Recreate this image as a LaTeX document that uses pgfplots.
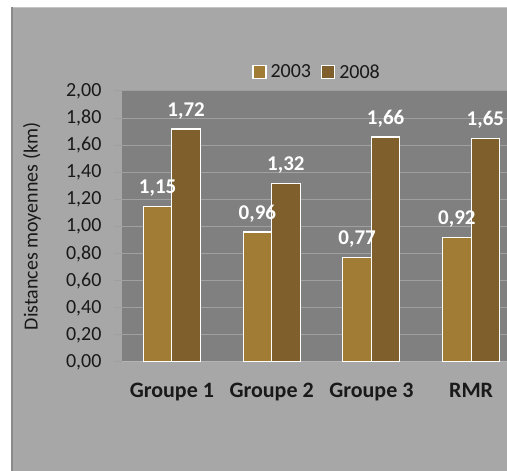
\documentclass[border=0pt]{standalone}
\usepackage{fontspec}
\setmainfont{Carlito}
\usepackage{pgfplots}
\pgfplotsset{compat=1.18}
\definecolor{outerbg}{HTML}{A6A7A6}
\definecolor{leftborder}{HTML}{8A8A8A}
\definecolor{topborder}{HTML}{C4C4C4}
\definecolor{plotbg}{HTML}{808080}
\definecolor{gridc}{HTML}{A0A0A0}
\definecolor{axc}{HTML}{B4B4B4}
\definecolor{c2003}{HTML}{A07C34}
\definecolor{c2008}{HTML}{7F5F2C}
\newcommand{\chartfont}{\fontsize{20}{22}\selectfont}

\begin{document}
\begin{tikzpicture}[x=1pt,y=1pt]
\clip (0,0) rectangle (507,471);
\fill[white] (0,0) rectangle (507,471);
\fill[outerbg] (11,0) rectangle (530,464);
\draw[topborder, line width=1pt] (11,463.5) -- (530,463.5);
\draw[leftborder, line width=1.5pt] (11.75,0) -- (11.75,464);
\begin{axis}[
    at={(122pt,109pt)}, anchor=south west,
    scale only axis, width=399pt, height=271pt,
    axis background/.style={fill=plotbg},
    ybar=0pt, bar width=28.5pt,
    xmin=-0.5, xmax=3.5, ymin=0, ymax=2,
    xtick={0,1,2,3},
    xticklabels={Groupe 1,Groupe 2,Groupe 3,RMR},
    major x tick style={draw=none},
    extra x ticks={-0.5,0.5,1.5,2.5,3.5},
    extra x tick labels={},
    extra x tick style={grid=none, tick align=outside, major tick length=8pt,
        major tick style={draw=axc, line width=1pt}},
    ytick={0,0.2,0.4,0.6,0.8,1,1.2,1.4,1.6,1.8,2},
    ymajorgrids,
    grid style={gridc, line width=1pt},
    axis x line*=bottom, axis y line*=left,
    x axis line style={axc, line width=1pt},
    y axis line style={draw=none},
    tick align=outside, major tick length=8pt,
    ytick style={draw=gridc, line width=1pt},
    /pgf/number format/.cd, use comma, fixed, fixed zerofill, precision=2,
        assume math mode=true,
    /pgfplots/.cd,
    yticklabel style={font=\chartfont, text=black!90, xshift=-9pt},
    xticklabel style={font=\fontsize{22}{24}\selectfont\bfseries, text=black!90, yshift=-10pt},
    ylabel={Distances moyennes (km)},
    every axis y label/.style={at={(axis description cs:-0.2256,0.5)},
        rotate=90, anchor=center, font=\chartfont, text=black!90},
    nodes near coords,
    nodes near coords style={font=\fontsize{21}{23}\selectfont\bfseries, text=white, yshift=6pt},
    legend style={at={(0.489,1.07)}, anchor=center, legend columns=2,
        draw=none, fill=none, font=\chartfont, text=black!90,
        /tikz/every odd column/.append style={column sep=2pt},
        /tikz/every even column/.append style={column sep=8pt}},
    legend image code/.code={\draw[#1] (0pt,-6.5pt) rectangle (13pt,6.5pt);},
]
\addplot[fill=c2003, draw=white, line width=1.2pt] coordinates {(0,1.15) (1,0.96) (2,0.77) (3,0.92)};
\addplot[fill=c2008, draw=white, line width=1.2pt] coordinates {(0,1.72) (1,1.32) (2,1.66) (3,1.65)};
\legend{2003,2008}
\end{axis}
\end{tikzpicture}
\end{document}
